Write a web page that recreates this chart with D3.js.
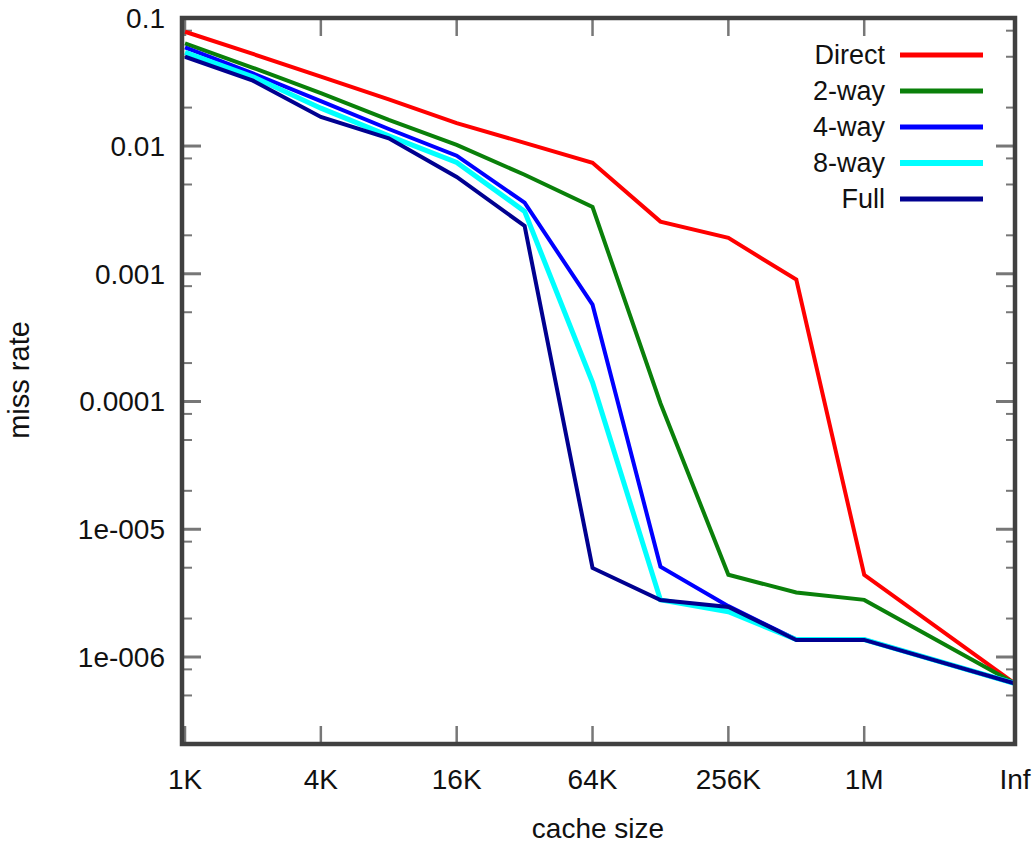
<!DOCTYPE html>
<html>
<head>
<meta charset="utf-8">
<script src="https://cdn.jsdelivr.net/npm/d3@7"></script>
<style>
  html, body { margin: 0; padding: 0; background: #fff; }
  svg { display: block; }
  text { font-family: 'Liberation Sans Narrow', 'Arial Narrow', 'Liberation Sans', Arial, sans-serif; fill: #111; }
</style>
</head>
<body>
<svg id="chart" width="1032" height="845"></svg>
<script>
/* ── Data ───────────────────────────────────────────────────────────────── */
const SIZES   = ['1K','2K','4K','8K','16K','32K','64K','128K','256K','512K','1M','Inf'];
const X_TICKS = ['1K','4K','16K','64K','256K','1M','Inf'];
const Y_TICKS = [0.1, 0.01, 0.001, 0.0001, 1e-5, 1e-6];
const Y_TICK_LABELS = ['0.1','0.01','0.001','0.0001','1e-005','1e-006'];

const DIRECT = [0.0785, 0.0526, 0.0349, 0.0232, 0.0151, 0.0106, 0.0074, 0.00256, 0.00191, 0.00090, 4.4e-6, 6.2e-7];
const WAY2   = [0.0637, 0.0410, 0.0260, 0.0160, 0.0102, 0.00596, 0.00333, 9.7e-5, 4.4e-6, 3.2e-6, 2.8e-6, 6.2e-7];
const WAY4   = [0.0593, 0.0370, 0.0225, 0.0136, 0.00840, 0.0036, 0.000573, 5.1e-6, 2.5e-6, 1.37e-6, 1.37e-6, 6.2e-7];
const WAY8   = [0.0542, 0.0349, 0.0198, 0.0120, 0.00745, 0.00308, 0.000141, 2.8e-6, 2.26e-6, 1.37e-6, 1.37e-6, 6.2e-7];
const FULL   = [0.0500, 0.0325, 0.0169, 0.0115, 0.00573, 0.00237, 4.98e-6, 2.79e-6, 2.46e-6, 1.36e-6, 1.36e-6, 6.2e-7];

const SERIES = [
  { name: 'Direct', values: DIRECT, color: '#ff0000', w: 4 },
  { name: '2-way',  values: WAY2,   color: '#0a800a', w: 4 },
  { name: '4-way',  values: WAY4,   color: '#0000ff', w: 4 },
  { name: '8-way',  values: WAY8,   color: '#00ffff', w: 5 },
  { name: 'Full',   values: FULL,   color: '#000090', w: 4 },
];

/* ── Layout ─────────────────────────────────────────────────────────────── */
const L = 182, R = 1015, T = 18, B = 744;
const INF_POS = 12.22;            // "Inf" sits past 1M, at the right edge
const svg = d3.select('#chart');

const xPos = i => SIZES[i] === 'Inf' ? INF_POS : i;
const x = d3.scaleLinear().domain([0, INF_POS]).range([185, R]);
const y = d3.scaleLog().domain([1e-6, 0.1]).range([657, 18.3]);

/* ── Ticks ──────────────────────────────────────────────────────────────── */
const minor = [];
Y_TICKS.forEach(t => [8, 5, 2].forEach(m => { const v = t * m / 10; if (y(v) < B - 2) minor.push(v); }));

const tickG = svg.append('g').attr('stroke', '#777');
Y_TICKS.forEach(t => {
  tickG.append('line').attr('x1', L).attr('x2', L + 19).attr('y1', y(t)).attr('y2', y(t)).attr('stroke-width', 3);
  tickG.append('line').attr('x1', R).attr('x2', R - 19).attr('y1', y(t)).attr('y2', y(t)).attr('stroke-width', 3);
});
minor.forEach(t => {
  tickG.append('line').attr('x1', L).attr('x2', L + 10).attr('y1', y(t)).attr('y2', y(t)).attr('stroke-width', 2);
  tickG.append('line').attr('x1', R).attr('x2', R - 9).attr('y1', y(t)).attr('y2', y(t)).attr('stroke-width', 2);
});
X_TICKS.forEach(lbl => {
  const px = x(xPos(SIZES.indexOf(lbl)));
  tickG.append('line').attr('x1', px).attr('x2', px).attr('y1', B).attr('y2', B - 18).attr('stroke-width', 2.5);
  tickG.append('line').attr('x1', px).attr('x2', px).attr('y1', T).attr('y2', T + 18).attr('stroke-width', 2.5);
});

/* ── Lines ──────────────────────────────────────────────────────────────── */
const line = d3.line().x((d, i) => x(xPos(i))).y(d => y(d));
SERIES.forEach(s => {
  svg.append('path').datum(s.values).attr('d', line)
     .attr('fill', 'none').attr('stroke', s.color).attr('stroke-width', s.w)
     .attr('stroke-linejoin', 'miter');
});

/* ── Frame ──────────────────────────────────────────────────────────────── */
svg.append('rect').attr('x', L).attr('y', T).attr('width', R - L).attr('height', B - T)
   .attr('fill', 'none').attr('stroke', '#404040').attr('stroke-width', 4.5);

/* ── Labels ─────────────────────────────────────────────────────────────── */
Y_TICKS.forEach((t, i) => {
  svg.append('text').attr('x', 165).attr('y', y(t)).attr('dy', '0.35em')
     .attr('text-anchor', 'end').attr('font-size', 28).text(Y_TICK_LABELS[i]);
});
X_TICKS.forEach(lbl => {
  svg.append('text').attr('x', x(xPos(SIZES.indexOf(lbl)))).attr('y', 789)
     .attr('text-anchor', 'middle').attr('font-size', 28).text(lbl);
});
svg.append('text').attr('x', 598).attr('y', 838).attr('text-anchor', 'middle')
   .attr('font-size', 28).text('cache size');
svg.append('text').attr('transform', 'translate(29,380) rotate(-90)').attr('text-anchor', 'middle')
   .attr('font-size', 29).text('miss rate');

/* ── Legend ─────────────────────────────────────────────────────────────── */
SERIES.forEach((s, i) => {
  const ly = 55 + i * 36;
  svg.append('text').attr('x', 885).attr('y', ly).attr('dy', '0.35em')
     .attr('text-anchor', 'end').attr('font-size', 27).text(s.name);
  svg.append('line').attr('x1', 900).attr('x2', 983).attr('y1', ly).attr('y2', ly)
     .attr('stroke', s.color).attr('stroke-width', s.w + 1);
});
</script>
</body>
</html>
